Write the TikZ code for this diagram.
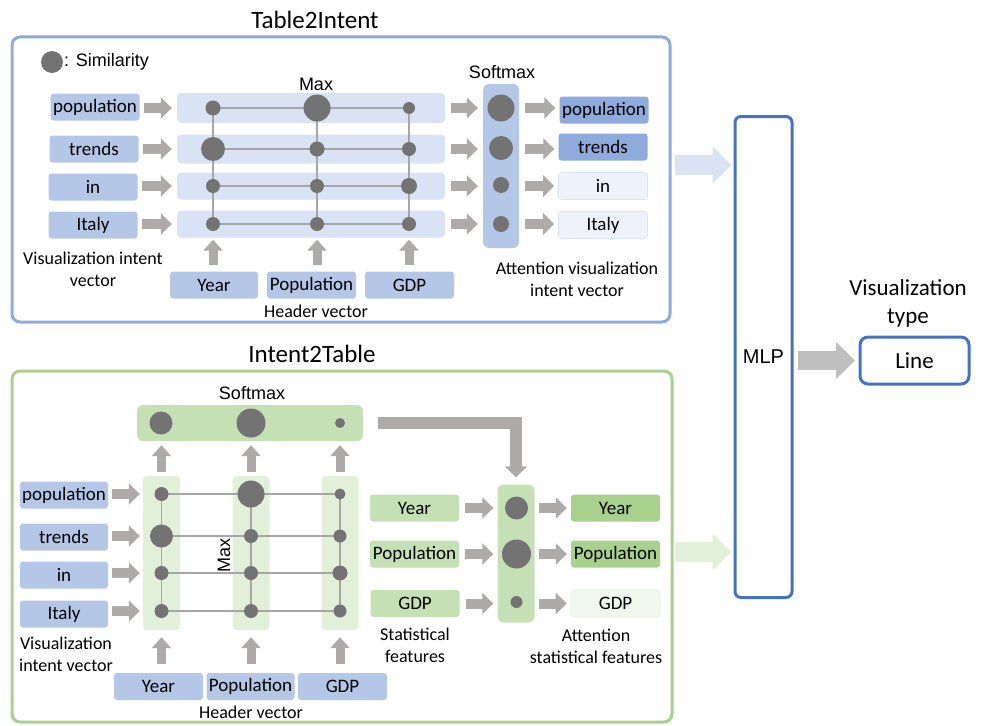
\documentclass[tikz,border=0pt]{standalone}
\usepackage{fontspec}
\setmainfont{Carlito}
\newfontfamily\arialf{Liberation Sans}
\usetikzlibrary{arrows.meta}
\definecolor{blight}{HTML}{DAE3F3}
\definecolor{bmid}{HTML}{B4C7E7}
\definecolor{bdeep}{HTML}{8FAADC}
\definecolor{bpale}{HTML}{EEF2FA}
\definecolor{glight}{HTML}{E2F0D9}
\definecolor{gmid}{HTML}{C5E0B4}
\definecolor{gdeep}{HTML}{A9D18E}
\definecolor{gpale}{HTML}{F1F8ED}
\definecolor{dotc}{HTML}{737373}
\definecolor{lnc}{HTML}{A6A6A6}
\definecolor{arrc}{HTML}{AEAAAA}
\definecolor{mlpc}{HTML}{4472C4}
\definecolor{outarr}{HTML}{BFBFBF}
\begin{document}
\begin{tikzpicture}[x=1pt,y=-1pt,
  lbl/.style={rounded corners=3pt, minimum width=89pt, minimum height=27pt, inner sep=0pt, font=\fontsize{19}{22}\selectfont},
  captxt/.style={align=center, inner sep=0pt, font=\fontsize{18}{22}\selectfont},
  ttl/.style={inner sep=0pt, font=\fontsize{25}{30}\selectfont},
  arl/.style={inner sep=0pt, font=\arialf\fontsize{18}{22}\selectfont},
  simdot/.style={circle, fill=dotc, inner sep=0pt},
  gline/.style={draw=lnc, line width=1.6pt},
  barrow/.style={draw=arrc, line width=10pt, -{Triangle[length=11pt,width=21pt]}},
  uarrow/.style={draw=arrc, line width=9pt, -{Triangle[length=11pt,width=19pt]}},
  bigarrow/.style={line width=20pt, -{Triangle[length=19pt,width=36pt]}},
  strip/.style={rounded corners=4pt, inner sep=0pt}
]
\useasboundingbox (0,0) rectangle (984,725);

% ================= Table2Intent =================
\node[ttl] (t1title) at (315,20) {Table2Intent};
\node[draw=bdeep, line width=3pt, rounded corners=8pt, minimum width=658pt, minimum height=285pt, inner sep=0pt] (p1) at (341,179.5) {};

\node[simdot, minimum size=22pt] (leg) at (52,62) {};
\node[arl, anchor=west] (legt) at (64,62) {: Similarity};

\node[arl] (tmax) at (316,84) {Max};
\node[arl] (tsoft) at (502,72) {Softmax};

% left labels
\node[lbl, fill=bmid] (tl1) at (95,107) {population};
\node[lbl, fill=bmid] (tl2) at (94,149) {trends};
\node[lbl, fill=bmid] (tl3) at (93,187) {in};
\node[lbl, fill=bmid] (tl4) at (93,225) {Italy};

% strips
\node[strip, fill=blight, minimum width=268pt, minimum height=30pt] (ts1) at (311,108) {};
\node[strip, fill=blight, minimum width=268pt, minimum height=29pt] (ts2) at (311,149) {};
\node[strip, fill=blight, minimum width=268pt, minimum height=27pt] (ts3) at (311,186) {};
\node[strip, fill=blight, minimum width=268pt, minimum height=27pt] (ts4) at (311,224) {};

\foreach \r/\y in {1/108,2/149,3/186,4/224} {
  \foreach \c/\x in {1/213,2/317,3/409} { \coordinate (t\r\c) at (\x,\y); }
}
\foreach \r in {1,2,3,4} { \draw[gline] (t\r1) -- (t\r3); }
\foreach \c in {1,2,3} { \draw[gline] (t1\c) -- (t4\c); }
\foreach \p/\s in {11/15,12/27,13/12,21/24,22/15,23/14,31/14,32/14,33/16,41/14,42/14,43/14} {
  \node[simdot, minimum size=\s pt] (td\p) at (t\p) {};
}

% softmax column
\node[strip, fill=bmid, rounded corners=6pt, minimum width=36pt, minimum height=164pt] (tsm) at (501,166) {};
\node[simdot, minimum size=27pt] (ts1d) at (501,108) {};
\node[simdot, minimum size=24pt] (ts2d) at (501,148) {};
\node[simdot, minimum size=16pt] (ts3d) at (501,185) {};
\node[simdot, minimum size=16pt] (ts4d) at (501,224) {};

% outputs
\node[lbl, fill=bdeep] (to1) at (604,110) {population};
\node[lbl, fill=bdeep] (to2) at (603,147) {trends};
\node[lbl, fill=bpale, draw=blight, line width=0.6pt] (to3) at (603,186) {in};
\node[lbl, fill=bpale, draw=blight, line width=0.6pt] (to4) at (603,225) {Italy};

% header boxes
\node[lbl, fill=bmid, minimum width=88pt] (th1) at (214,285) {Year};
\node[lbl, fill=bmid] (th2) at (311.5,285) {Population};
\node[lbl, fill=bmid] (th3) at (409.5,285) {GDP};

% arrows
\foreach \i in {1,2,3,4} {
  \draw[barrow, shorten <=4pt, shorten >=5pt] (tl\i.east |- ts\i.west) -- (ts\i.west);
  \draw[barrow, shorten <=6pt, shorten >=5pt] (ts\i.east) -- (ts\i.east -| tsm.west);
  \draw[barrow, shorten <=6pt, shorten >=4pt] (tsm.east |- ts\i.east) -- (to\i.west |- ts\i.east);
}
\draw[uarrow, shorten <=6pt, shorten >=2pt] (td41 |- th1.north) -- (td41 |- ts4.south);
\draw[uarrow, shorten <=6pt, shorten >=2pt] (td42 |- th2.north) -- (td42 |- ts4.south);
\draw[uarrow, shorten <=6pt, shorten >=2pt] (td43 |- th3.north) -- (td43 |- ts4.south);

\node[captxt] (tcap1) at (93,269) {Visualization intent\\vector};
\node[captxt] (tcap2) at (316,311) {Header vector};
\node[captxt] (tcap3) at (577,279) {Attention visualization\\intent vector};

% ================= MLP and output =================
\node[draw=mlpc, line width=3pt, rounded corners=6pt, minimum width=57pt, minimum height=481pt, inner sep=0pt, font=\arialf\fontsize{20}{24}\selectfont] (mlp) at (763.5,357) {MLP};
\node[draw=mlpc, line width=3pt, rounded corners=8pt, minimum width=109pt, minimum height=47pt, inner sep=0pt, font=\fontsize{23}{28}\selectfont] (line) at (914.5,360.5) {Line};
\node[align=center, inner sep=0pt, font=\fontsize{23}{28}\selectfont] (vtype) at (908,303) {Visualization\\type};
\draw[bigarrow, draw=outarr, line width=19pt, shorten <=4.5pt, shorten >=3.5pt] (mlp.east |- line.west) -- (line.west);

\coordinate (a1s) at (675,165);
\coordinate (a2s) at (675,552);
\draw[bigarrow, draw=blight] (a1s) -- ([xshift=-2pt]a1s -| mlp.west);
\draw[bigarrow, draw=glight] (a2s) -- ([xshift=-2pt]a2s -| mlp.west);

% ================= Intent2Table =================
\node[ttl] (t2title) at (312,354) {Intent2Table};
\node[draw=gdeep, line width=3pt, rounded corners=8pt, minimum width=660pt, minimum height=351pt, inner sep=0pt] (p2) at (342,546.5) {};

\node[arl] (bsoft) at (252,393) {Softmax};
\node[strip, fill=gmid, rounded corners=6pt, minimum width=226pt, minimum height=36pt] (bsm) at (250,423) {};
\node[simdot, minimum size=23pt] (bs1) at (161,423) {};
\node[simdot, minimum size=29pt] (bs2) at (251,423) {};
\node[simdot, minimum size=10pt] (bs3) at (340,423) {};

% columns
\node[strip, fill=glight, minimum width=37pt, minimum height=154pt] (bc1) at (161.5,553) {};
\node[strip, fill=glight, minimum width=37pt, minimum height=154pt] (bc2) at (251,553) {};
\node[strip, fill=glight, minimum width=37pt, minimum height=154pt] (bc3) at (340,553) {};

% left labels
\node[lbl, fill=bmid, minimum width=88pt] (bl1) at (64,495) {population};
\node[lbl, fill=bmid, minimum width=88pt] (bl2) at (64,537) {trends};
\node[lbl, fill=bmid, minimum width=88pt] (bl3) at (64,575) {in};
\node[lbl, fill=bmid, minimum width=88pt] (bl4) at (64,614) {Italy};

\foreach \r/\y in {1/494,2/536,3/573,4/611} {
  \foreach \c/\x in {1/161.5,2/251,3/340} { \coordinate (b\r\c) at (\x,\y); }
}
\foreach \r in {1,2,3,4} { \draw[gline] (b\r1) -- (b\r3); }
\foreach \c in {1,2,3} { \draw[gline] (b1\c) -- (b4\c); }
\foreach \p/\s in {11/14,12/27,13/11,21/23,22/14,23/13,31/14,32/14,33/15,41/14,42/14,43/13} {
  \node[simdot, minimum size=\s pt] (bd\p) at (b\p) {};
}
\node[arl, rotate=90] (bmax) at (224,555) {Max};

\foreach \i in {1,2,3,4} {
  \draw[barrow, shorten <=4pt, shorten >=3pt] (bl\i.east |- b\i1) -- (bc1.west |- b\i1);
}
\foreach \c in {1,2,3} {
  \draw[uarrow, shorten <=4pt, shorten >=4pt] (bc\c.north) -- (bc\c.north |- bsm.south);
}

% header boxes
\node[lbl, fill=bmid] (bh1) at (158.5,686.5) {Year};
\node[lbl, fill=bmid, minimum width=88pt] (bh2) at (250.5,686.5) {Population};
\node[lbl, fill=bmid] (bh3) at (342.5,686.5) {GDP};
\draw[uarrow, shorten <=9pt, shorten >=7pt] (bc1.south |- bh1.north) -- (bc1.south);
\draw[uarrow, shorten <=9pt, shorten >=7pt] (bc2.south |- bh2.north) -- (bc2.south);
\draw[uarrow, shorten <=9pt, shorten >=7pt] (bc3.south |- bh3.north) -- (bc3.south);

% statistical features
\node[lbl, fill=gmid] (bf1) at (414.5,508) {Year};
\node[lbl, fill=gmid] (bf2) at (414.5,554) {Population};
\node[lbl, fill=gmid] (bf3) at (415,603.5) {GDP};

\node[strip, fill=gmid, rounded corners=6pt, minimum width=37pt, minimum height=138pt] (bat) at (516,553.5) {};
\node[simdot, minimum size=23pt] (ba1) at (516.5,508) {};
\node[simdot, minimum size=29pt] (ba2) at (516.5,554) {};
\node[simdot, minimum size=12pt] (ba3) at (516.5,602) {};

\node[lbl, fill=gdeep] (bo1) at (615.5,508) {Year};
\node[lbl, fill=gdeep] (bo2) at (615.5,554) {Population};
\node[lbl, fill=gpale, draw=glight, line width=0.6pt] (bo3) at (615.5,603.5) {GDP};

\foreach \i in {1,2,3} {
  \draw[barrow, shorten <=6pt, shorten >=4pt] (bf\i.east) -- (bf\i.east -| bat.west);
  \draw[barrow, shorten <=4pt, shorten >=4pt] (bat.east |- bf\i.east) -- (bo\i.west);
}

% corner arrow
\draw[draw=arrc, line width=12pt, miter limit=4, -{Triangle[length=11pt,width=22pt]}, shorten >=7pt] ([xshift=15pt]bsm.east) -- (bsm.east -| bat.north) -- (bat.north);

\node[captxt] (bcap1) at (66,654) {Visualization\\intent vector};
\node[captxt] (bcap2) at (251,712) {Header vector};
\node[captxt] (bcap3) at (415,645.5) {Statistical\\features};
\node[captxt] (bcap4) at (596,646) {Attention\\statistical features};

\end{tikzpicture}
\end{document}
